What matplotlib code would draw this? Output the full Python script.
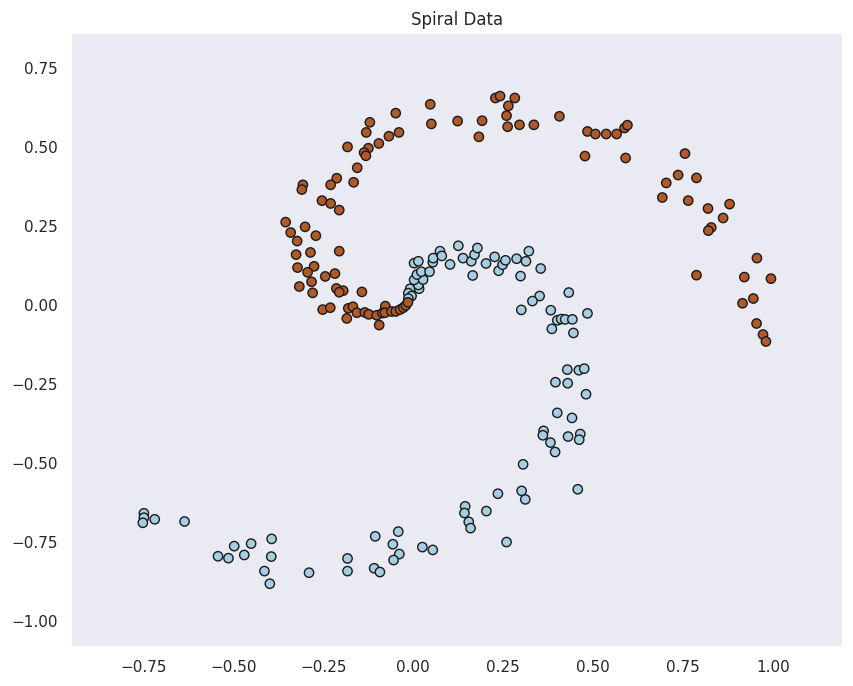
import numpy as np
import seaborn as sns
from matplotlib import pyplot as plt

# class 0 (light blue)
blue_x = [-0.009, -0.014, -0.005, -0.014, 0.016, 0.014, 0.002, 0.027, 0.010, 0.022,
          0.045, 0.002, 0.014, 0.054, 0.055, 0.074, 0.079, 0.102, 0.125, 0.138,
          0.161, 0.170, 0.178, 0.165, 0.202, 0.226, 0.237, 0.248, 0.256, 0.287,
          0.313, 0.321, 0.298, 0.354, 0.351, 0.331, 0.300, 0.382, 0.385, 0.432,
          0.400, 0.411, 0.422, 0.442, 0.484, 0.445, 0.428, 0.460, 0.475, 0.395,
          0.429, 0.480, 0.400, 0.441, 0.362, 0.360, 0.430, 0.464, 0.461, 0.381,
          0.394, 0.305, 0.235, 0.301, 0.311, 0.457, 0.144, 0.142, 0.203, 0.154,
          0.159, 0.259, -0.106, -0.042, -0.057, 0.025, 0.054, -0.039, -0.055, -0.109,
          -0.093, -0.749, -0.749, -0.752, -0.719, -0.636, -0.394, -0.451, -0.498, -0.543,
          -0.514, -0.470, -0.395, -0.414, -0.399, -0.290, -0.183, -0.183]
blue_y = [0.051, 0.037, 0.028, 0.020, 0.051, 0.063, 0.079, 0.080, 0.096, 0.105,
          0.105, 0.132, 0.138, 0.135, 0.148, 0.170, 0.155, 0.128, 0.187, 0.148,
          0.138, 0.159, 0.180, 0.093, 0.131, 0.152, 0.108, 0.127, 0.141, 0.146,
          0.138, 0.170, 0.091, 0.115, 0.028, 0.012, -0.016, -0.017, -0.076, 0.039,
          -0.049, -0.045, -0.046, -0.046, -0.027, -0.089, -0.205, -0.207, -0.202, -0.245,
          -0.248, -0.283, -0.342, -0.358, -0.399, -0.413, -0.417, -0.409, -0.427, -0.436,
          -0.466, -0.505, -0.598, -0.589, -0.616, -0.584, -0.638, -0.659, -0.653, -0.687,
          -0.707, -0.751, -0.733, -0.718, -0.758, -0.767, -0.776, -0.789, -0.808, -0.834,
          -0.846, -0.660, -0.674, -0.690, -0.679, -0.686, -0.741, -0.756, -0.764, -0.796,
          -0.802, -0.792, -0.797, -0.843, -0.883, -0.848, -0.803, -0.843]

# class 1 (brown)
brown_x = [0.047, -0.049, 0.123, 0.050, -0.121, -0.131, -0.040, -0.068, -0.096, -0.183,
           -0.125, -0.137, -0.132, -0.156, -0.213, -0.230, -0.166, -0.307, -0.310, -0.254,
           -0.230, -0.206, -0.355, -0.301, -0.341, -0.271, -0.323, 0.228, 0.241, 0.282,
           0.264, 0.191, 0.259, 0.182, 0.262, 0.295, 0.335, 0.406, 0.484, 0.506,
           0.536, 0.565, 0.587, 0.595, 0.477, 0.590, 0.755, 0.736, 0.787, 0.703,
           0.692, 0.764, 0.819, 0.879, 0.861, 0.828, 0.820, 0.955, 0.787, 0.920,
           0.994, 0.945, 0.915, 0.954, 0.972, 0.980, -0.326, -0.286, -0.206, -0.322,
           -0.276, -0.294, -0.218, -0.245, -0.283, -0.317, -0.280, -0.214, -0.195, -0.206,
           -0.143, -0.252, -0.231, -0.181, -0.168, -0.185, -0.157, -0.135, -0.124, -0.102,
           -0.078, -0.086, -0.079, -0.095, -0.061, -0.049, -0.037, -0.028, -0.021, -0.015]
brown_y = [0.635, 0.607, 0.582, 0.573, 0.578, 0.546, 0.546, 0.534, 0.511, 0.500,
           0.496, 0.482, 0.472, 0.434, 0.401, 0.380, 0.388, 0.380, 0.365, 0.330,
           0.321, 0.300, 0.262, 0.247, 0.229, 0.219, 0.202, 0.655, 0.661, 0.655,
           0.630, 0.583, 0.599, 0.532, 0.564, 0.570, 0.570, 0.597, 0.549, 0.541,
           0.541, 0.541, 0.560, 0.569, 0.471, 0.465, 0.479, 0.411, 0.402, 0.386,
           0.340, 0.330, 0.305, 0.319, 0.275, 0.245, 0.235, 0.148, 0.094, 0.088,
           0.083, 0.020, 0.005, -0.059, -0.094, -0.116, 0.159, 0.166, 0.170, 0.118,
           0.122, 0.103, 0.099, 0.090, 0.073, 0.058, 0.038, 0.052, 0.045, 0.040,
           0.041, -0.015, -0.009, -0.011, -0.006, -0.043, -0.025, -0.024, -0.030, -0.033,
           -0.004, -0.026, -0.025, -0.064, -0.021, -0.021, -0.015, -0.009, -0.002, 0.008]


def plot_spiral():
    """Scatter the two spiral classes."""
    x = np.array(blue_x + brown_x)
    y = np.array(blue_y + brown_y)
    labels = np.array([0] * len(blue_x) + [1] * len(brown_x))

    sns.set_theme(style="dark")
    fig = plt.figure(figsize=(8.54, 6.86), dpi=100)
    ax = fig.add_axes([0.083, 0.057, 0.904, 0.895])
    ax.scatter(x, y, c=labels, cmap=plt.cm.Paired, s=45,
               edgecolors="k", linewidths=1)
    ax.set_xlim(x.min() - 0.2, x.max() + 0.2)
    ax.set_ylim(y.min() - 0.2, y.max() + 0.2)
    ax.set_title("Spiral Data")
    fig.savefig("out.png", dpi=100)


if __name__ == "__main__":
    plot_spiral()
